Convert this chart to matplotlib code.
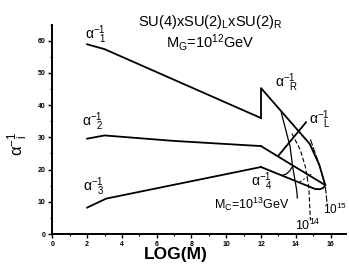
import matplotlib
matplotlib.use("Agg")
import matplotlib.pyplot as plt
from matplotlib.ticker import MultipleLocator

plt.rcParams['font.family'] = ['Liberation Sans', 'DejaVu Sans']
plt.rcParams['mathtext.default'] = 'regular'

# running inverse couplings (x = log10 M / GeV)
logm_1 = [2, 3, 12]
inv_a1 = [58.9, 57.4, 36.0]
logm_2 = [2, 3, 7, 12]
inv_a2 = [29.6, 30.6, 28.9, 27.3]
logm_3 = [2, 3.1, 12]
inv_a3 = [8.2, 11.0, 20.8]
logm_R = [12, 12, 14.8, 15.35, 15.69]
inv_aR = [36.0, 45.3, 28.0, 21.5, 15.2]
logm_L = [12, 13.7, 15.69]
inv_aL = [27.3, 21.7, 15.2]
logm_4 = [12, 14.6, 15.1, 15.4, 15.6, 15.69]
inv_a4 = [20.8, 15.1, 14.0, 13.9, 14.4, 15.2]

# alpha_L line for the labelled branch
logm_Lb = [12.98, 14.59]
inv_aLb = [24.2, 34.7]

# unification point trajectories for M_C = 10^13, 10^14, 10^15
logm_c13 = [13.17, 13.67, 13.82, 14.05, 14.09]
inv_c13 = [37.6, 27.2, 20.9, 13.7, 11.2]
logm_c14 = [13.78, 14.26, 14.56, 14.75, 14.84]
inv_c14 = [31.2, 26.1, 20.7, 14.5, 4.2]
logm_c15 = [14.84, 15.35, 15.69, 15.83]
inv_c15 = [29.4, 21.5, 15.2, 8.0]
logm_hook = [13.2, 13.45, 13.65, 13.82]
inv_hook = [18.2, 18.6, 19.6, 21.0]
logm_dash = [14.24, 14.95]
inv_dash = [16.2, 18.8]

fig = plt.figure(figsize=(3.49, 2.64), dpi=100)
ax = fig.add_axes([0.150, 0.1136, 0.842, 0.793])

lw = 1.3
for xs, ys in [(logm_1, inv_a1), (logm_2, inv_a2), (logm_3, inv_a3),
               (logm_R, inv_aR), (logm_L, inv_aL), (logm_4, inv_a4),
               (logm_Lb, inv_aLb)]:
    ax.plot(xs, ys, color='black', lw=lw, solid_joinstyle='round')

ax.plot(logm_c13, inv_c13, color='black', lw=0.9)
ax.plot(logm_hook, inv_hook, color='black', lw=0.9)
ax.plot(logm_c14, inv_c14, color='black', lw=0.8, dashes=(4, 2))
ax.plot(logm_c15, inv_c15, color='black', lw=0.8, dashes=(6, 1.5))
ax.plot(logm_dash, inv_dash, color='black', lw=0.7, dashes=(2, 2))

# curve labels
lab = dict(fontsize=10, ha='left', va='center')
ax.text(1.9, 62.0, r'$\alpha^{-1}_{\ \ 1}$', **lab)
ax.text(1.7, 35.0, r'$\alpha^{-1}_{\ \ 2}$', **lab)
ax.text(1.75, 14.7, r'$\alpha^{-1}_{\ \ 3}$', **lab)
ax.text(12.8, 47.0, r'$\alpha^{-1}_{\ \ R}$', **lab)
ax.text(14.75, 35.5, r'$\alpha^{-1}_{\ \ L}$', **lab)
ax.text(11.4, 16.3, r'$\alpha^{-1}_{\ \ 4}$', **lab)
ax.text(9.3, 9.1, r'M$_C$=10$^{13}$GeV', fontsize=9, ha='left', va='center')
ax.text(13.95, 2.6, r'10$^{14}$', fontsize=9, ha='left', va='center')
ax.text(15.55, 7.6, r'10$^{15}$', fontsize=8.5, ha='left', va='center')

fig.text(138 / 349, 1 - 26 / 264, r'SU(4)xSU(2)$_L$xSU(2)$_R$', fontsize=10.5,
         ha='left', va='baseline')
fig.text(166 / 349, 1 - 48 / 264, r'M$_G$=10$^{12}$GeV', fontsize=10.5,
         ha='left', va='baseline')

ax.set_xlim(0, 16.9)
ax.set_ylim(0, 65)
ax.xaxis.set_major_locator(MultipleLocator(2))
ax.xaxis.set_minor_locator(MultipleLocator(1))
ax.yaxis.set_major_locator(MultipleLocator(10))
ax.yaxis.set_minor_locator(MultipleLocator(5))
ax.tick_params(which='major', direction='out', length=3, width=1,
               labelsize=5, pad=2)
ax.tick_params(which='minor', direction='out', length=1.5, width=0.8)
for t in ax.get_xticklabels() + ax.get_yticklabels():
    t.set_fontweight('bold')

for s in ['top', 'right']:
    ax.spines[s].set_visible(False)
for s in ['left', 'bottom']:
    ax.spines[s].set_linewidth(1.4)

ax.set_xlabel('LOG(M)', fontsize=12.5, fontweight='bold')
ax.xaxis.set_label_coords(0.42, -0.06, transform=ax.transAxes)
ax.set_ylabel(r'$\alpha^{-1}_{\ \ i}$', fontsize=12)
ax.yaxis.set_label_coords(-0.075, 0.43, transform=ax.transAxes)

fig.savefig('out.png', dpi=100)
